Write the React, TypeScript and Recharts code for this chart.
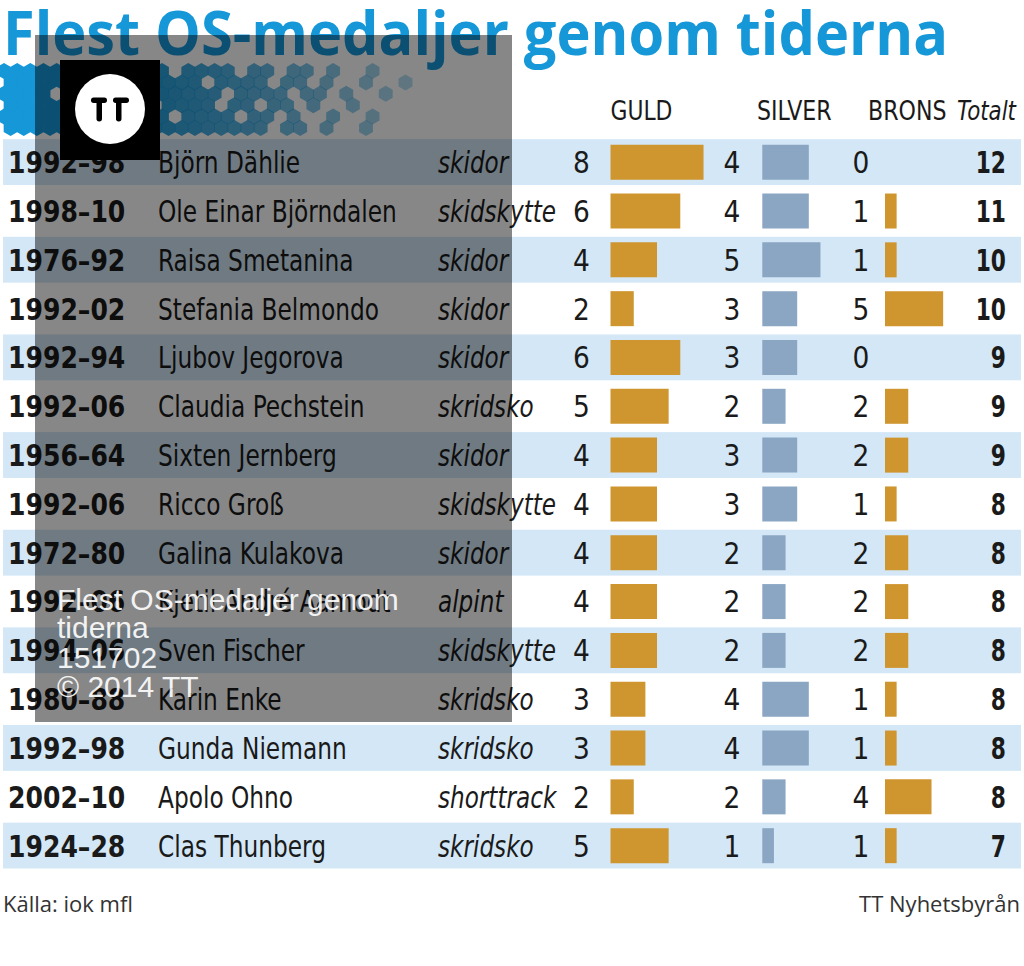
import { BarChart, Bar, XAxis, YAxis, ReferenceArea } from 'recharts';

const years = ['1992–98', '1998–10', '1976–92', '1992–02', '1992–94', '1992–06', '1956–64', '1992–06', '1972–80', '1992–06', '1994–06', '1980–88', '1992–98', '2002–10', '1924–28'];
const names = ['Björn Dählie', 'Ole Einar Björndalen', 'Raisa Smetanina', 'Stefania Belmondo', 'Ljubov Jegorova', 'Claudia Pechstein', 'Sixten Jernberg', 'Ricco Groß', 'Galina Kulakova', 'Kjetil André Aamodt', 'Sven Fischer', 'Karin Enke', 'Gunda Niemann', 'Apolo Ohno', 'Clas Thunberg'];
const sports = ['skidor', 'skidskytte', 'skidor', 'skidor', 'skidor', 'skridsko', 'skidor', 'skidskytte', 'skidor', 'alpint', 'skidskytte', 'skridsko', 'skridsko', 'shorttrack', 'skridsko'];
const gold = [8, 6, 4, 2, 6, 5, 4, 4, 4, 4, 4, 3, 3, 2, 5];
const silver = [4, 4, 5, 3, 3, 2, 3, 3, 2, 2, 2, 4, 4, 2, 1];
const bronze = [0, 1, 1, 5, 0, 2, 2, 1, 2, 2, 2, 1, 1, 4, 1];
const totals = [12, 11, 10, 10, 9, 9, 9, 8, 8, 8, 8, 8, 8, 8, 7];
const headers = ['GULD', 'SILVER', 'BRONS'];

const W = 1024;
const H = 966;
const PLOT_LEFT = 3;
const PLOT_RIGHT = 1021;
const UNIT = 11.63; // px per medal
const GOLD_X = 610.5;
const SILVER_X = 762.3;
const BRONZE_X = 885;

const BLUE = '#1597d8';
const STRIPE = '#d3e7f6';
const GOLD = '#cf952f';
const SILVERC = '#8aa6c3';
const TEXT = '#1a1a1a';
const NARROW = "'DejaVu Sans Condensed', 'DejaVu Sans', sans-serif";

const domainFor = (zero: number): [number, number] => [
  -(zero - PLOT_LEFT) / UNIT,
  (PLOT_RIGHT - zero) / UNIT,
];

const rows = names.map((name, i) => ({
  name,
  gold: gold[i],
  silver: silver[i],
  bronze: bronze[i],
}));

// text squeezed horizontally to mimic the condensed face of the original
function SText({ x, y, sx, anchor = 'start', children, ...rest }: any) {
  return (
    <g transform={`translate(${x},${y}) scale(${sx},1)`}>
      <text x={0} y={0} textAnchor={anchor} {...rest}>
        {children}
      </text>
    </g>
  );
}

function RowTick(props: any) {
  const { y, payload } = props;
  let i = names.indexOf(payload.value);
  if (i < 0) i = payload.index;
  const base = y + 11;
  return (
    <g fontFamily={NARROW} fontSize={31} fill={TEXT}>
      <SText x={8} y={base} sx={0.9} fontWeight="bold">{years[i]}</SText>
      <SText x={158} y={base} sx={0.835}>{names[i]}</SText>
      <SText x={438} y={base} sx={0.83} fontStyle="italic">{sports[i]}</SText>
      <SText x={581.5} y={base} sx={0.95} anchor="middle">{gold[i]}</SText>
      <SText x={732} y={base} sx={0.95} anchor="middle">{silver[i]}</SText>
      <SText x={861} y={base} sx={0.95} anchor="middle">{bronze[i]}</SText>
      <SText x={1006} y={base} sx={0.78} anchor="end" fontWeight="bold">{totals[i]}</SText>
    </g>
  );
}

function Hexes() {
  const r = 8;
  const w = Math.sqrt(3) * 7.6;
  const cells = [];
  for (let row = 0; row < 6; row++) {
    for (let col = 0; col < 36; col++) {
      const cx = 4 + col * w + (row % 2) * (w / 2);
      const cy = 71 + row * 7.6 * 1.5;
      if (cx > 470) continue;
      const density = cx < 40 ? 1 : cx < 220 ? 0.85 : Math.max(0, 0.85 - (cx - 220) / 260);
      const h = ((col * 37 + row * 17) % 23) / 23;
      if (h >= density) continue;
      const op = cx < 40 ? 1 : Math.max(0.3, 1 - (cx - 120) / 420);
      const pts = [0, 1, 2, 3, 4, 5]
        .map((k) => {
          const a = (Math.PI / 3) * k - Math.PI / 2;
          return `${cx + r * Math.cos(a)},${cy + r * Math.sin(a)}`;
        })
        .join(' ');
      cells.push(<polygon key={`${row}-${col}`} points={pts} fill={BLUE} opacity={op} />);
    }
  }
  return <g>{cells}</g>;
}

export default function App() {
  return (
    <div style={{ position: 'absolute', left: 0, top: 0, width: W, height: H, background: '#fff' }}>
      <svg width={W} height={H} style={{ position: 'absolute', left: 0, top: 0 }}>
        <text x={3} y={55} fill={BLUE} fontFamily="'Open Sans', 'Noto Sans', sans-serif" fontWeight="bold" fontSize={60} textLength={945} lengthAdjust="spacingAndGlyphs">
          Flest OS-medaljer genom tiderna
        </text>
        <Hexes />
        <g fontFamily={NARROW} fontSize={27} fill={TEXT}>
          <SText x={GOLD_X} y={120} sx={0.9}>{headers[0]}</SText>
          <SText x={757} y={120} sx={0.91}>{headers[1]}</SText>
          <SText x={868} y={120} sx={0.91}>{headers[2]}</SText>
          <SText x={1016} y={120} sx={0.88} anchor="end" fontStyle="italic">Totalt</SText>
        </g>
        <g fontFamily="'Open Sans', sans-serif" fontSize={22} fill="#333">
          <text x={3} y={912}>Källa: iok mfl</text>
          <text x={1020} y={912} textAnchor="end">TT Nyhetsbyrån</text>
        </g>
      </svg>
      <div style={{ position: 'absolute', left: 0, top: 0 }}>
        <BarChart
          width={W}
          height={H}
          data={rows}
          layout="vertical"
          margin={{ top: 137.7, right: W - PLOT_RIGHT, bottom: H - 870, left: PLOT_LEFT - 1 }}
          barCategoryGap={0}
        >
          <XAxis xAxisId="g" type="number" domain={domainFor(GOLD_X)} allowDataOverflow hide />
          <XAxis xAxisId="s" type="number" domain={domainFor(SILVER_X)} allowDataOverflow hide />
          <XAxis xAxisId="b" type="number" domain={domainFor(BRONZE_X)} allowDataOverflow hide />
          <YAxis yAxisId="s" type="category" dataKey="name" hide />
          <YAxis yAxisId="b" type="category" dataKey="name" hide />
          {names
            .filter((_, i) => i % 2 === 0)
            .map((n) => (
              <ReferenceArea
                key={n}
                xAxisId="g"
                yAxisId="g"
                y1={n}
                y2={n}
                ifOverflow="visible"
                shape={(p: any) => (
                  <rect x={p.x} y={p.y + 1.5} width={p.width} height={p.height - 3} fill={STRIPE} />
                )}
              />
            ))}
          <Bar dataKey="gold" xAxisId="g" yAxisId="g" fill={GOLD} barSize={35} isAnimationActive={false} />
          <Bar dataKey="silver" xAxisId="s" yAxisId="s" fill={SILVERC} barSize={35} isAnimationActive={false} />
          <Bar dataKey="bronze" xAxisId="b" yAxisId="b" fill={GOLD} barSize={35} isAnimationActive={false} />
          <YAxis
            yAxisId="g"
            type="category"
            dataKey="name"
            width={1}
            axisLine={false}
            tickLine={false}
            interval={0}
            tick={<RowTick />}
          />
        </BarChart>
      </div>
      <svg width={W} height={H} style={{ position: 'absolute', left: 0, top: 0, pointerEvents: 'none' }}>
        <rect x={35} y={35} width={477} height={687} fill="#000" opacity={0.47} />
        <rect x={60} y={60} width={100} height={100} fill="#000" />
        <circle cx={110} cy={109} r={35} fill="#fff" />
        <g fill="#000">
          <rect x={91} y={97.5} width={16} height={5.5} rx={2.7} />
          <rect x={113} y={97.5} width={16} height={5.5} rx={2.7} />
          <rect x={96.5} y={100} width={5.5} height={21.5} rx={2.7} />
          <rect x={116} y={100} width={5.5} height={21.5} rx={2.7} />
        </g>
        <g fontFamily="'Liberation Sans', Arial, sans-serif" fontSize={30} fill="#fff" opacity={0.9}>
          <text x={57} y={610}>Flest OS-medaljer genom</text>
          <text x={57} y={638}>tiderna</text>
          <text x={57} y={668}>151702</text>
          <text x={57} y={697}>© 2014 TT</text>
        </g>
      </svg>
    </div>
  );
}
